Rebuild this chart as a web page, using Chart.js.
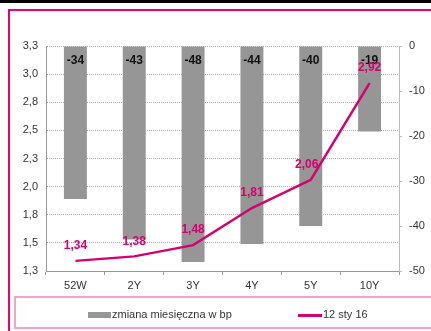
<!DOCTYPE html>
<html>
<head>
<meta charset="utf-8">
<script src="https://cdn.jsdelivr.net/npm/chart.js@4"></script>
<style>
  html, body { margin: 0; background: #fff; overflow: hidden; }
  #wrap { position: relative; width: 431px; height: 331px; overflow: hidden; background: #fff; }
  canvas { position: absolute; left: 0; top: 0; }
  .legend { position: absolute; left: 16px; top: 298px; font: 11px 'Liberation Sans', Arial, sans-serif; color: #333; }
  .legend .sw1 { position: absolute; left: 72px; top: 14px; width: 23px; height: 6px; background: #969696; }
  .legend .t1 { position: absolute; left: 96px; top: 10px; white-space: nowrap; }
  .legend .sw2 { position: absolute; left: 282px; top: 16px; width: 24px; height: 3px; background: #d6006e; }
  .legend .t2 { position: absolute; left: 307px; top: 10px; white-space: nowrap; }
</style>
</head>
<body>
<div id="wrap">
  <canvas id="chart" width="431" height="331"></canvas>
  <div class="legend">
    <div class="sw1"></div><span class="t1">zmiana miesięczna w bp</span>
    <div class="sw2"></div><span class="t2">12 sty 16</span>
  </div>
</div>
<script>
// Data
const categories = ['52W', '2Y', '3Y', '4Y', '5Y', '10Y'];
const monthlyChange = [-34, -43, -48, -44, -40, -19];
const yields = [1.34, 1.38, 1.48, 1.81, 2.06, 2.92];
const leftTicks = [1.25, 1.5, 1.75, 2.0, 2.25, 2.5, 2.75, 3.0, 3.25];
const rightTicks = [0, -10, -20, -30, -40, -50];

const fmt = (v, d) => v.toFixed(d).replace('.', ',');

// page frame: black strip, pink frame, legend box
const framePlugin = {
  id: 'frame',
  beforeDraw(chart) {
    const ctx = chart.ctx;
    ctx.save();
    ctx.fillStyle = '#fff';
    ctx.fillRect(0, 0, chart.width, chart.height);
    ctx.fillStyle = '#000';
    ctx.fillRect(0, 0, chart.width, 3);
    ctx.fillStyle = '#e6007e';
    ctx.fillRect(8, 9, chart.width - 8, 2);
    ctx.fillRect(8, 9, 2, chart.height - 9);
    ctx.fillStyle = '#f0a3cc';
    ctx.fillRect(14, 296, chart.width - 14, 2);
    ctx.fillRect(14, 327, chart.width - 14, 2);
    ctx.fillRect(14, 296, 2, 33);
    ctx.restore();
  }
};

const labelsPlugin = {
  id: 'valueLabels',
  afterDatasetsDraw(chart) {
    const ctx = chart.ctx;
    ctx.save();
    ctx.textAlign = 'center';
    ctx.textBaseline = 'middle';
    // bar labels inside top of bars
    const barMeta = chart.getDatasetMeta(1);
    ctx.font = 'bold 12px "Liberation Sans Narrow", "Liberation Sans", Arial, sans-serif';
    ctx.fillStyle = '#111';
    barMeta.data.forEach((el, i) => {
      ctx.fillText(String(monthlyChange[i]), el.x, chart.chartArea.top + 15);
    });
    // line labels above points
    const lineMeta = chart.getDatasetMeta(0);
    ctx.fillStyle = '#d6006e';
    lineMeta.data.forEach((el, i) => {
      const dx = i === 4 ? -4 : 0;
      ctx.fillText(fmt(yields[i], 2), el.x + dx, el.y - 15);
    });
    ctx.restore();
  }
};

new Chart(document.getElementById('chart'), {
  type: 'bar',
  data: {
    labels: categories,
    datasets: [
      {
        type: 'line',
        label: '12 sty 16',
        data: yields,
        yAxisID: 'y',
        borderColor: '#d6006e',
        borderWidth: 2.5,
        pointRadius: 0,
        tension: 0,
        order: 0
      },
      {
        type: 'bar',
        label: 'zmiana miesięczna w bp',
        data: monthlyChange,
        yAxisID: 'y2',
        backgroundColor: '#969696',
        barPercentage: 0.39,
        categoryPercentage: 1,
        order: 1
      }
    ]
  },
  options: {
    responsive: false,
    animation: false,
    events: [],
    layout: { padding: { left: 0, right: 0, top: 46, bottom: 40 } },
    plugins: { legend: { display: false }, tooltip: { enabled: false } },
    scales: {
      x: {
        grid: { drawOnChartArea: false, tickLength: 4, color: '#999' },
        border: { color: '#999' },
        ticks: { color: '#333', padding: 4, font: { size: 11, family: '"Liberation Sans Narrow", "Liberation Sans", Arial, sans-serif' } },
        afterFit(s) { s.height = 20; }
      },
      y: {
        position: 'left',
        min: 1.25,
        max: 3.25,
        afterBuildTicks(s) { s.ticks = leftTicks.map(v => ({ value: v })); },
        grid: { color: '#aaa', drawTicks: false, lineWidth: 1 },
        border: { color: '#999', dash: [1, 1] },
        ticks: { color: '#333', padding: 8, font: { size: 11, family: '"Liberation Sans", Arial, sans-serif' }, callback: v => fmt(v, 1) },
        afterFit(s) { s.width = 46; }
      },
      y2: {
        position: 'right',
        min: -50,
        max: 0,
        afterBuildTicks(s) { s.ticks = rightTicks.map(v => ({ value: v })); },
        grid: { drawOnChartArea: false, tickLength: 3, color: '#bbb' },
        border: { color: '#bbb' },
        ticks: { color: '#333', padding: 7, font: { size: 11, family: '"Liberation Sans", Arial, sans-serif' } },
        afterFit(s) { s.width = 32; }
      }
    }
  },
  plugins: [framePlugin, labelsPlugin]
});
</script>
</body>
</html>
